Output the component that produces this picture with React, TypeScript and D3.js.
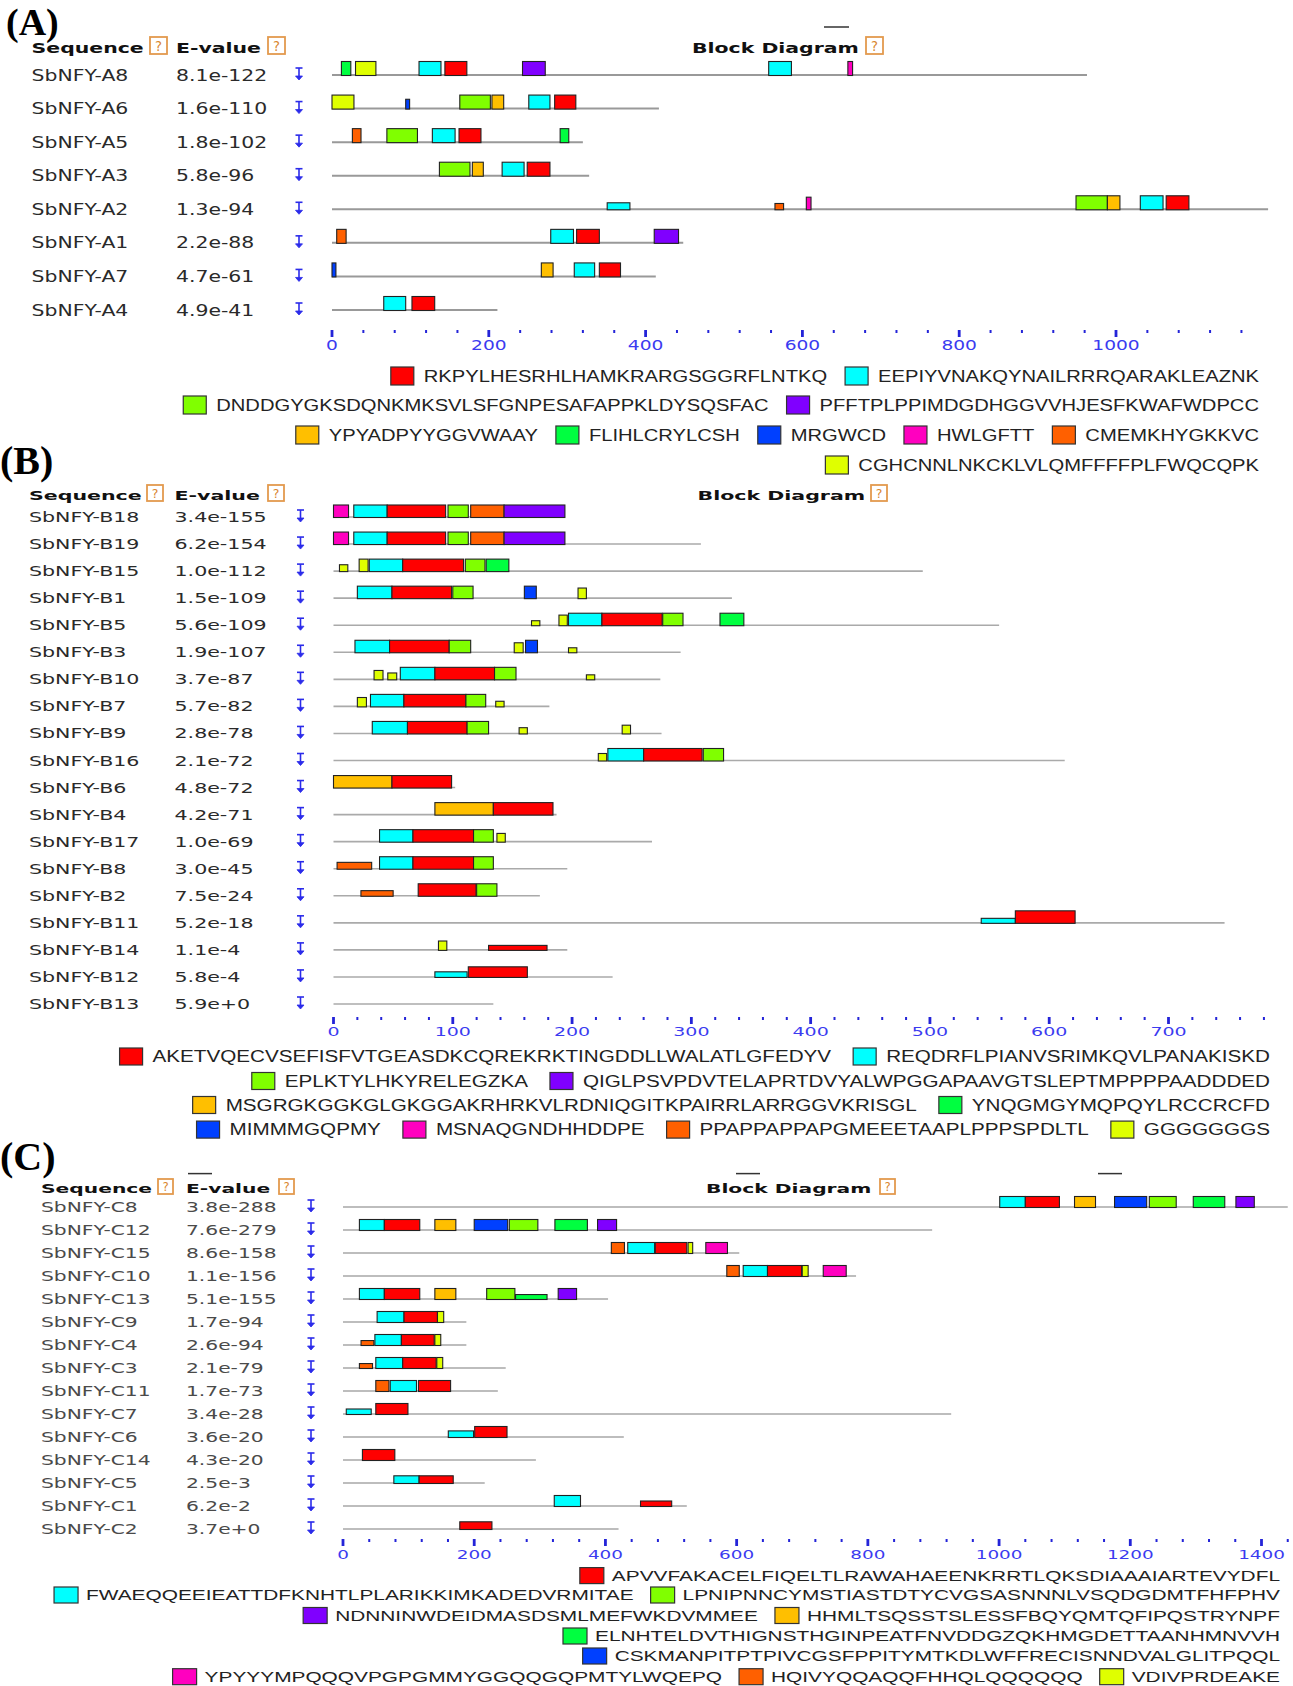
import React from "react";
import * as d3 from "d3";

// MEME motif colours, in legend order (motif 1..10)
const motifColors = ["#FF0000", "#00FFFF", "#80FF00", "#8000FF", "#FFBF00", "#00FF40", "#0040FF", "#FF00BF", "#FF6000", "#DFFF00"];

// ---------- panel A ----------
const motifsA = [
  "RKPYLHESRHLHAMKRARGSGGRFLNTKQ", "EEPIYVNAKQYNAILRRRQARAKLEAZNK",
  "DNDDGYGKSDQNKMKSVLSFGNPESAFAPPKLDYSQSFAC", "PFFTPLPPIMDGDHGGVVHJESFKWAFWDPCC",
  "YPYADPYYGGVWAAY", "FLIHLCRYLCSH", "MRGWCD", "HWLGFTT", "CMEMKHYGKKVC",
  "CGHCNNLNKCKLVLQMFFFFPLFWQCQPK",
];
const legendRowsA = [[1, 2], [3, 4], [5, 6, 7, 8, 9], [10]];
const namesA = ["SbNFY-A8", "SbNFY-A6", "SbNFY-A5", "SbNFY-A3", "SbNFY-A2", "SbNFY-A1", "SbNFY-A7", "SbNFY-A4"];
const evaluesA = ["8.1e-122", "1.6e-110", "1.8e-102", "5.8e-96", "1.3e-94", "2.2e-88", "4.7e-61", "4.9e-41"];
const lengthsA = [963, 417, 320, 328, 1194, 448, 413, 211];
// [motif, start, end, relative score]
const sitesA = [
  [[6, 12, 24], [10, 30, 56], [2, 111, 139], [1, 144, 172], [4, 243, 272], [2, 557, 586], [8, 658, 664]],
  [[10, 0, 28], [7, 94, 99, 0.7], [3, 163, 202], [5, 204, 219], [2, 251, 278], [1, 284, 311]],
  [[9, 26, 37], [3, 70, 109], [2, 128, 157], [1, 162, 190], [6, 291, 302]],
  [[3, 137, 176], [5, 179, 193], [2, 217, 245], [1, 249, 278]],
  [[2, 351, 380, 0.5], [9, 565, 576, 0.45], [8, 605, 611, 0.9], [3, 949, 989], [5, 989, 1005], [2, 1031, 1060], [1, 1064, 1093]],
  [[9, 6, 18], [2, 279, 308], [1, 312, 341], [4, 411, 442]],
  [[7, 0, 5], [5, 267, 282], [2, 309, 335], [1, 341, 368]],
  [[2, 66, 94], [1, 102, 131]],
];

// ---------- panel B ----------
const motifsB = [
  "AKETVQECVSEFISFVTGEASDKCQREKRKTINGDDLLWALATLGFEDYV", "REQDRFLPIANVSRIMKQVLPANAKISKD",
  "EPLKTYLHKYRELEGZKA", "QIGLPSVPDVTELAPRTDVYALWPGGAPAAVGTSLEPTMPPPPAADDDED",
  "MSGRGKGGKGLGKGGAKRHRKVLRDNIQGITKPAIRRLARRGGVKRISGL", "YNQGMGYMQPQYLRCCRCFD",
  "MIMMMGQPMY", "MSNAQGNDHHDDPE", "PPAPPAPPAPGMEEETAAPLPPPSPDLTL", "GGGGGGGS",
];
const legendRowsB = [[1, 2], [3, 4], [5, 6], [7, 8, 9, 10]];
const namesB = ["SbNFY-B18", "SbNFY-B19", "SbNFY-B15", "SbNFY-B1", "SbNFY-B5", "SbNFY-B3", "SbNFY-B10", "SbNFY-B7", "SbNFY-B9", "SbNFY-B16", "SbNFY-B6", "SbNFY-B4", "SbNFY-B17", "SbNFY-B8", "SbNFY-B2", "SbNFY-B11", "SbNFY-B14", "SbNFY-B12", "SbNFY-B13"];
const evaluesB = ["3.4e-155", "6.2e-154", "1.0e-112", "1.5e-109", "5.6e-109", "1.9e-107", "3.7e-87", "5.7e-82", "2.8e-78", "2.1e-72", "4.8e-72", "4.2e-71", "1.0e-69", "3.0e-45", "7.5e-24", "5.2e-18", "1.1e-4", "5.8e-4", "5.9e+0"];
const lengthsB = [194, 308, 494, 334, 558, 291, 274, 181, 275, 613, 102, 187, 267, 196, 173, 747, 196, 234, 134];
const sitesB = [
  [[8, 0, 12.6], [2, 17, 45], [1, 45, 94], [3, 96, 113], [9, 115, 143], [4, 143, 194]],
  [[8, 0, 12.6], [2, 17, 45], [1, 45, 94], [3, 96, 113], [9, 115, 143], [4, 143, 194]],
  [[10, 5, 12, 0.55], [10, 21.5, 29], [2, 30, 58], [1, 58, 109], [3, 110.5, 127], [6, 128, 147]],
  [[2, 20, 49], [1, 49, 99], [3, 100, 117], [7, 160, 170], [10, 205, 212, 0.85]],
  [[10, 166, 173, 0.4], [10, 189, 196, 0.85], [2, 197, 225], [1, 225, 275.5], [3, 276, 293], [6, 324, 344]],
  [[2, 18, 47], [1, 47, 97], [3, 97, 115], [10, 151.5, 159, 0.8], [7, 161, 171], [10, 197, 204, 0.4]],
  [[10, 34, 41.5, 0.75], [10, 45.5, 53, 0.55], [2, 56, 85], [1, 85, 135], [3, 135, 153], [10, 212, 219, 0.4]],
  [[10, 20, 27.6, 0.75], [2, 31, 59], [1, 59, 111], [3, 111, 127.6], [10, 136, 143, 0.45]],
  [[2, 32.5, 62], [1, 62, 112], [3, 112, 130], [10, 155.6, 162.5, 0.5], [10, 242, 249, 0.7]],
  [[10, 222, 229, 0.6], [2, 230, 260], [1, 260, 309], [3, 310, 327]],
  [[5, 0, 49], [1, 49, 99]],
  [[5, 85, 134], [1, 134, 184]],
  [[2, 38.6, 66.6], [1, 66.6, 117.4], [3, 117.4, 134], [10, 137, 144, 0.7]],
  [[9, 3, 32, 0.55], [2, 38.6, 66.6], [1, 66.6, 117.4], [3, 117.4, 134]],
  [[9, 23, 50, 0.45], [1, 71, 119.5], [3, 120, 137]],
  [[2, 543, 571.6, 0.4], [1, 571.6, 621.7]],
  [[10, 88, 95, 0.75], [1, 130, 179, 0.4]],
  [[2, 85, 112, 0.45], [1, 113, 162.5, 0.85]],
  [],
];

// ---------- panel C ----------
const motifsC = [
  "APVVFAKACELFIQELTLRAWAHAEENKRRTLQKSDIAAAIARTEVYDFL", "FWAEQQEEIEATTDFKNHTLPLARIKKIMKADEDVRMITAE",
  "LPNIPNNCYMSTIASTDTYCVGSASNNNLVSQDGDMTFHFPHV", "NDNNINWDEIDMASDSMLMEFWKDVMMEE",
  "HHMLTSQSSTSLESSFBQYQMTQFIPQSTRYNPF", "ELNHTELDVTHIGNSTHGINPEATFNVDDGZQKHMGDETTAANHMNVVH",
  "CSKMANPITPTPIVCGSFPPITYMTKDLWFFRECISNNDVALGLITPQQL", "YPYYYMPQQQVPGPGMMYGGQQGQPMTYLWQEPQ",
  "HQIVYQQAQQFHHQLQQQQQQ", "VDIVPRDEAKE",
];
const legendRowsC = [[1], [2, 3], [4, 5], [6], [7], [8, 9, 10]];
const namesC = ["SbNFY-C8", "SbNFY-C12", "SbNFY-C15", "SbNFY-C10", "SbNFY-C13", "SbNFY-C9", "SbNFY-C4", "SbNFY-C3", "SbNFY-C11", "SbNFY-C7", "SbNFY-C6", "SbNFY-C14", "SbNFY-C5", "SbNFY-C1", "SbNFY-C2"];
const evaluesC = ["3.8e-288", "7.6e-279", "8.6e-158", "1.1e-156", "5.1e-155", "1.7e-94", "2.6e-94", "2.1e-79", "1.7e-73", "3.4e-28", "3.6e-20", "4.3e-20", "2.5e-3", "6.2e-2", "3.7e+0"];
const lengthsC = [1440, 898, 604, 782, 404, 188, 188, 248, 236, 927, 428, 294, 216, 524, 420];
const sitesC = [
  [[2, 1001, 1040], [1, 1040, 1092], [5, 1115, 1147], [7, 1176, 1225], [3, 1229, 1270], [6, 1296, 1344], [4, 1361, 1389]],
  [[2, 25, 63], [1, 63, 117], [5, 140, 172], [7, 200, 251], [3, 253.5, 297], [6, 323, 372.5], [4, 388, 417]],
  [[9, 409, 429], [2, 434, 475], [1, 476, 524], [10, 526, 533], [8, 553, 586]],
  [[9, 585, 604], [2, 610, 647], [1, 647, 699], [10, 700, 709], [8, 732, 767]],
  [[2, 25, 63], [1, 63, 117], [5, 140, 172], [3, 219, 262], [6, 263, 311, 0.45], [4, 328, 356]],
  [[2, 52, 93], [1, 93, 144], [10, 144, 153.5]],
  [[9, 27.5, 47, 0.45], [2, 48.6, 89], [1, 89, 139], [10, 140, 149]],
  [[9, 25, 45, 0.45], [2, 50, 91], [1, 91, 142], [10, 143, 152]],
  [[9, 50, 70], [2, 72, 112], [1, 115, 164]],
  [[2, 5, 43, 0.5], [1, 50, 99]],
  [[2, 160.5, 199, 0.6], [1, 200.7, 250]],
  [[1, 29.6, 79]],
  [[2, 77.5, 116, 0.7], [1, 116, 168, 0.7]],
  [[2, 322, 362], [1, 453.5, 501, 0.5]],
  [[1, 178, 227, 0.7]],
];

const measureCtx = document.createElement("canvas").getContext("2d");
function textWidth(s: string, font: string) {
  if (!measureCtx) return s.length * 9;
  measureCtx.font = font;
  return measureCtx.measureText(s).width;
}

function STxt({ x, y, sx, size, children, bold = false, fill = "#333", anchor = "start", family = "DejaVu Sans" }: any) {
  return (
    <text
      transform={`translate(${x},${y}) scale(${sx},1)`}
      fontFamily={family}
      fontSize={size}
      fontWeight={bold ? "bold" : "normal"}
      fill={fill}
      textAnchor={anchor}
    >
      {children}
    </text>
  );
}

function HelpIcon({ x, y, s }: any) {
  return (
    <g>
      <rect x={x} y={y} width={s} height={s} fill="#fff" stroke="#e39a4e" strokeWidth={1.8} />
      <text x={x + s / 2} y={y + s * 0.8} textAnchor="middle" fontFamily="DejaVu Sans" fontSize={s * 0.78} fill="#d9862f">?</text>
    </g>
  );
}

function ArrowIcon({ x, y }: any) {
  return (
    <g stroke="#2b2bea" strokeWidth={1.6} fill="#2b2bea">
      <line x1={x - 3.5} x2={x + 3.5} y1={y - 7} y2={y - 7} />
      <line x1={x} x2={x} y1={y - 7} y2={y + 2} />
      <path d={`M${x - 3.5},${y + 1} L${x + 3.5},${y + 1} L${x},${y + 5} Z`} strokeWidth={0.8} />
    </g>
  );
}

function Panel({ cfg, names, evalues, lengths, sites, motifs, legendRows }: any) {
  const x = d3.scaleLinear().domain([0, cfg.domainMax]).range(cfg.xRange);
  const y = d3.scalePoint<string>().domain(names).range(cfg.rowY);
  const h = d3.scaleLinear().domain([0, 1]).range([0, cfg.boxH]);
  const ticks = d3.range(0, cfg.tickMax + 1, cfg.tickStep);
  const legFont = `${cfg.legSize}px "Liberation Sans"`;

  const legend: any[] = [];
  legendRows.forEach((row: number[], ri: number) => {
    let right = cfg.legRight;
    [...row].reverse().forEach((id) => {
      const w = textWidth(motifs[id - 1], legFont) * cfg.legSx;
      const textX = right - w;
      const boxX = textX - cfg.legGapBT - cfg.legBox[0];
      legend.push({ id, ly: cfg.legY[ri], textX, boxX, w });
      right = boxX - cfg.legGapItem;
    });
  });

  const fs = cfg.fontSize;
  return (
    <g>
      <text x={cfg.tagX} y={cfg.tagY} fontFamily="Liberation Serif" fontWeight="bold" fontSize={cfg.tagSize} fill="#000">
        {cfg.tag}
      </text>
      {cfg.dashes.map((d: number[], i: number) => (
        <line key={i} x1={d[0]} x2={d[1]} y1={d[2]} y2={d[2]} stroke="#333" strokeWidth={1.5} />
      ))}
      {/* header */}
      <STxt x={cfg.seqX} y={cfg.headY} sx={cfg.hsx} size={cfg.headSize} bold fill="#111">Sequence</STxt>
      <HelpIcon x={cfg.seqHelpX} y={cfg.headY - cfg.helpS + 1} s={cfg.helpS} />
      <STxt x={cfg.evX} y={cfg.headY} sx={cfg.hsx} size={cfg.headSize} bold fill="#111">E-value</STxt>
      <HelpIcon x={cfg.evHelpX} y={cfg.headY - cfg.helpS + 1} s={cfg.helpS} />
      <STxt x={cfg.blockX} y={cfg.headY} sx={cfg.hsx} size={cfg.headSize} bold fill="#111">Block Diagram</STxt>
      <HelpIcon x={cfg.blockHelpX} y={cfg.headY - cfg.helpS + 1} s={cfg.helpS} />

      {names.map((n: string, i: number) => {
        const ly = y(n) as number;
        return (
          <g key={n}>
            <STxt x={cfg.seqX} y={ly + cfg.textDy} sx={cfg.sx} size={fs} fill={cfg.textColor}>{n}</STxt>
            <STxt x={cfg.evX} y={ly + cfg.textDy} sx={cfg.sx} size={fs} fill={cfg.textColor}>{evalues[i]}</STxt>
            <ArrowIcon x={cfg.arrowX} y={ly} />
            <line x1={x(0)} x2={x(lengths[i])} y1={ly} y2={ly} stroke={cfg.lineColor} strokeWidth={cfg.lineW} />
            {sites[i].map((s: number[], j: number) => {
              const bh = h(s[3] ?? 1);
              return (
                <rect
                  key={j}
                  x={x(s[1])}
                  y={ly + 0.5 - bh}
                  width={x(s[2]) - x(s[1])}
                  height={bh}
                  fill={motifColors[s[0] - 1]}
                  stroke="#222"
                  strokeWidth={1.1}
                />
              );
            })}
          </g>
        );
      })}

      {/* axis */}
      {ticks.map((t: number) => {
        const major = t % cfg.labelStep === 0;
        return (
          <rect
            key={t}
            x={x(t) - (major ? 1.4 : 1)}
            y={cfg.axisY}
            width={major ? 2.8 : 2}
            height={major ? 7 : 3}
            fill="#2424d8"
          />
        );
      })}
      {ticks
        .filter((t: number) => t % cfg.labelStep === 0 && t <= cfg.domainMax)
        .map((t: number) => (
          <STxt key={t} x={x(t)} y={cfg.axisLabelY} sx={cfg.axisSx} size={cfg.axisSize} fill="#3b3bf0" anchor="middle">
            {t}
          </STxt>
        ))}

      {/* legend */}
      {legend.map((l, i) => (
        <g key={i}>
          <rect
            x={l.boxX}
            y={l.ly - cfg.legBox[1] / 2}
            width={cfg.legBox[0]}
            height={cfg.legBox[1]}
            fill={motifColors[l.id - 1]}
            stroke="#333"
            strokeWidth={1.2}
          />
          <text
            x={l.textX}
            y={l.ly + cfg.legSize * 0.36}
            textLength={l.w}
            lengthAdjust="spacingAndGlyphs"
            fontFamily="Liberation Sans"
            fontSize={cfg.legSize}
            fill="#222"
          >
            {motifs[l.id - 1]}
          </text>
        </g>
      ))}
    </g>
  );
}

const cfgA = {
  tag: "(A)", tagX: 6, tagY: 34.5, tagSize: 38, headY: 53, rowY: [75, 310], boxH: 14,
  fontSize: 15, sx: 1.36, headSize: 14, hsx: 1.46, axisSize: 14, axisSx: 1.33, textDy: 5.5, textColor: "#2a2a2a",
  seqX: 31.6, seqHelpX: 150, evX: 176, evHelpX: 268, blockX: 692, blockHelpX: 866, helpS: 17,
  arrowX: 299, domainMax: 1000, xRange: [332, 1116], tickMax: 1160, tickStep: 40, labelStep: 200,
  axisY: 330, axisLabelY: 350, lineColor: "#999", lineW: 2,
  dashes: [[824, 849, 27]],
  legY: [376, 405, 435, 465], legSize: 16, legSx: 1.26, legRight: 1259, legBox: [23, 18], legGapBT: 10, legGapItem: 18,
};
const cfgB = {
  tag: "(B)", tagX: 0, tagY: 474, tagSize: 40, headY: 500, rowY: [517, 1004], boxH: 12.5,
  fontSize: 14, sx: 1.47, headSize: 13, hsx: 1.58, axisSize: 13, axisSx: 1.46, textDy: 5, textColor: "#2a2a2a",
  seqX: 29, seqHelpX: 147, evX: 174.5, evHelpX: 268, blockX: 697.5, blockHelpX: 871, helpS: 16,
  arrowX: 300.5, domainMax: 700, xRange: [333.5, 1168.5], tickMax: 780, tickStep: 20, labelStep: 100,
  axisY: 1017, axisLabelY: 1036, lineColor: "#aaa", lineW: 1.6,
  dashes: [],
  legY: [1056.5, 1081, 1105, 1129.6], legSize: 16, legSx: 1.29, legRight: 1270, legBox: [23, 17], legGapBT: 10, legGapItem: 22,
};
const cfgC = {
  tag: "(C)", tagX: 0, tagY: 1170, tagSize: 40, headY: 1193, rowY: [1207, 1529], boxH: 11,
  fontSize: 13.5, sx: 1.5, headSize: 12.5, hsx: 1.62, axisSize: 12.5, axisSx: 1.47, textDy: 4.6, textColor: "#4a4a4a",
  seqX: 41, seqHelpX: 158, evX: 186, evHelpX: 279, blockX: 706, blockHelpX: 880, helpS: 15,
  arrowX: 311, domainMax: 1400, xRange: [343, 1261.5], tickMax: 1440, tickStep: 40, labelStep: 200,
  axisY: 1539, axisLabelY: 1559, lineColor: "#bdbdbd", lineW: 2,
  dashes: [[188, 212, 1173.6], [736, 760, 1173.6], [1098, 1122, 1173.6]],
  legY: [1575.6, 1595, 1615.5, 1636, 1656, 1676.7], legSize: 15, legSx: 1.39, legRight: 1280, legBox: [24, 16], legGapBT: 8, legGapItem: 17,
};

export default function App() {
  return (
    <svg
      width={1293}
      height={1686}
      style={{ position: "absolute", left: 0, top: 0, background: "#fff", display: "block" }}
    >
      <rect width={1293} height={1686} fill="#fff" />
      <Panel cfg={cfgA} names={namesA} evalues={evaluesA} lengths={lengthsA} sites={sitesA} motifs={motifsA} legendRows={legendRowsA} />
      <Panel cfg={cfgB} names={namesB} evalues={evaluesB} lengths={lengthsB} sites={sitesB} motifs={motifsB} legendRows={legendRowsB} />
      <Panel cfg={cfgC} names={namesC} evalues={evaluesC} lengths={lengthsC} sites={sitesC} motifs={motifsC} legendRows={legendRowsC} />
    </svg>
  );
}
